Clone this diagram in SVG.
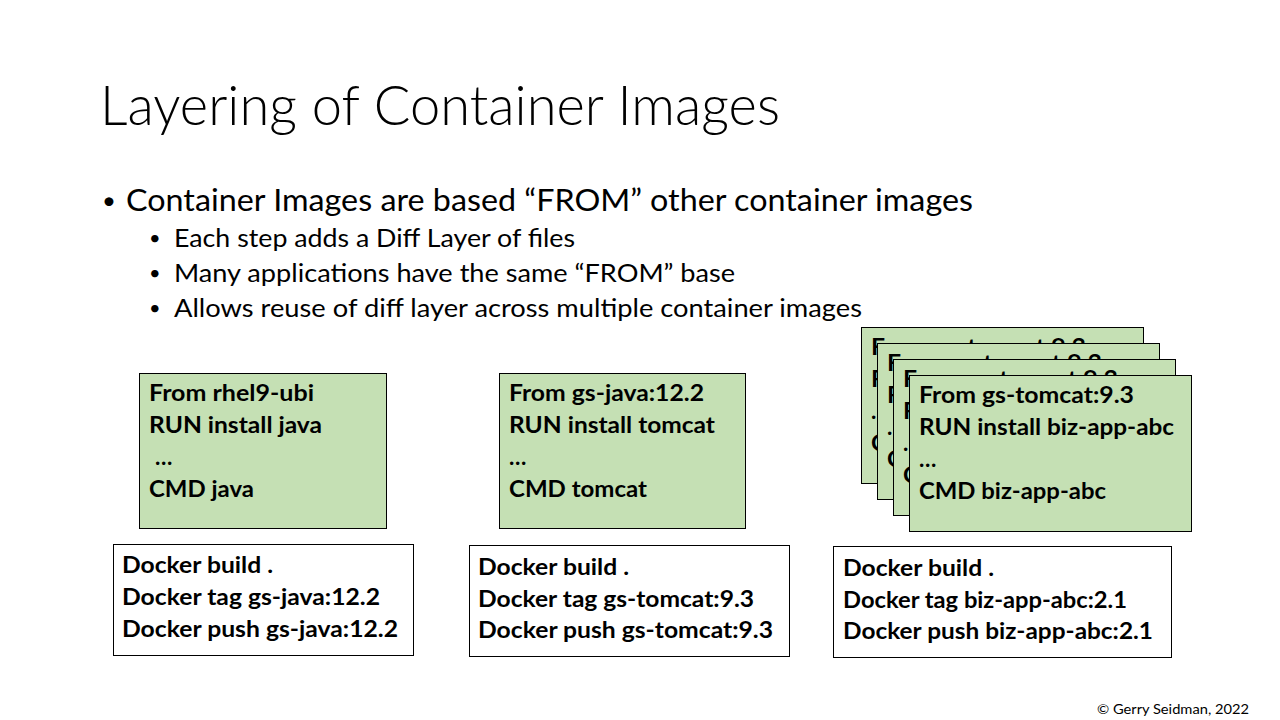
<svg xmlns="http://www.w3.org/2000/svg" width="1280" height="720" viewBox="0 0 1280 720">
<style>
text{font-family:Lato,"Open Sans","Liberation Sans",sans-serif;fill:#000}
.title{font-size:56px;font-weight:300}
.b1{font-size:30px}
.b2{font-size:25px}
.dot1{font-size:24px}
.dot2{font-size:20px}
.code{font-size:22.5px;font-weight:700}
.green{fill:#C5E0B4;stroke:#000;stroke-width:1}
.white{fill:#fff;stroke:#000;stroke-width:1}
.copy{font-size:14px}
</style>
<rect width="1280" height="720" fill="#fff"/>
<text class="title" x="100" y="125" textLength="680" lengthAdjust="spacingAndGlyphs">Layering of Container Images</text>
<g id="bullets">
<text class="dot1" x="102" y="209">•</text>
<text class="b1" x="126" y="211" textLength="847" lengthAdjust="spacingAndGlyphs">Container Images are based “FROM” other container images</text>
<text class="dot2" x="149" y="245">•</text>
<text class="b2" x="174" y="247" textLength="401" lengthAdjust="spacingAndGlyphs">Each step adds a Diff Layer of files</text>
<text class="dot2" x="149" y="280">•</text>
<text class="b2" x="174" y="282" textLength="561" lengthAdjust="spacingAndGlyphs">Many applications have the same “FROM” base</text>
<text class="dot2" x="149" y="315">•</text>
<text class="b2" x="174" y="317" textLength="688" lengthAdjust="spacingAndGlyphs">Allows reuse of diff layer across multiple container images</text>
</g>
<g id="connectors"></g>
<g id="java-dockerfile">
<rect class="green" x="139.5" y="373.5" width="247" height="155"/>
<text class="code" x="149" y="401" textLength="165" lengthAdjust="spacingAndGlyphs">From rhel9-ubi</text>
<text class="code" x="149" y="433" textLength="173" lengthAdjust="spacingAndGlyphs">RUN install java</text>
<text class="code" x="155" y="465">…</text>
<text class="code" x="149" y="497" textLength="105" lengthAdjust="spacingAndGlyphs">CMD java</text>
</g>
<g id="java-build">
<rect class="white" x="113.5" y="544.5" width="300" height="111"/>
<text class="code" x="122" y="573" textLength="151" lengthAdjust="spacingAndGlyphs">Docker build .</text>
<text class="code" x="122" y="605" textLength="258" lengthAdjust="spacingAndGlyphs">Docker tag gs-java:12.2</text>
<text class="code" x="122" y="637" textLength="276" lengthAdjust="spacingAndGlyphs">Docker push gs-java:12.2</text>
</g>
<g id="tomcat-dockerfile">
<rect class="green" x="499.5" y="373.5" width="246" height="155"/>
<text class="code" x="509" y="401" textLength="195" lengthAdjust="spacingAndGlyphs">From gs-java:12.2</text>
<text class="code" x="509" y="433" textLength="206" lengthAdjust="spacingAndGlyphs">RUN install tomcat</text>
<text class="code" x="509" y="465">…</text>
<text class="code" x="509" y="497" textLength="138" lengthAdjust="spacingAndGlyphs">CMD tomcat</text>
</g>
<g id="tomcat-build">
<rect class="white" x="469.5" y="545.5" width="320" height="111"/>
<text class="code" x="478" y="575" textLength="151" lengthAdjust="spacingAndGlyphs">Docker build .</text>
<text class="code" x="478" y="607" textLength="276" lengthAdjust="spacingAndGlyphs">Docker tag gs-tomcat:9.3</text>
<text class="code" x="478" y="638" textLength="295" lengthAdjust="spacingAndGlyphs">Docker push gs-tomcat:9.3</text>
</g>
<g id="app-dockerfile-stack">
<g id="app-card-1">
<rect class="green" x="861.5" y="327.5" width="282" height="156"/>
<text class="code" x="871" y="355" textLength="215" lengthAdjust="spacingAndGlyphs">From gs-tomcat:9.3</text>
<text class="code" x="871" y="387" textLength="255" lengthAdjust="spacingAndGlyphs">RUN install biz-app-abc</text>
<text class="code" x="871" y="419">…</text>
<text class="code" x="871" y="451" textLength="187" lengthAdjust="spacingAndGlyphs">CMD biz-app-abc</text>
</g>
<g id="app-card-2">
<rect class="green" x="877.5" y="343.5" width="282" height="156"/>
<text class="code" x="887" y="371" textLength="215" lengthAdjust="spacingAndGlyphs">From gs-tomcat:9.3</text>
<text class="code" x="887" y="403" textLength="255" lengthAdjust="spacingAndGlyphs">RUN install biz-app-abc</text>
<text class="code" x="887" y="435">…</text>
<text class="code" x="887" y="467" textLength="187" lengthAdjust="spacingAndGlyphs">CMD biz-app-abc</text>
</g>
<g id="app-card-3">
<rect class="green" x="893.5" y="359.5" width="282" height="156"/>
<text class="code" x="903" y="387" textLength="215" lengthAdjust="spacingAndGlyphs">From gs-tomcat:9.3</text>
<text class="code" x="903" y="419" textLength="255" lengthAdjust="spacingAndGlyphs">RUN install biz-app-abc</text>
<text class="code" x="903" y="451">…</text>
<text class="code" x="903" y="483" textLength="187" lengthAdjust="spacingAndGlyphs">CMD biz-app-abc</text>
</g>
<g id="app-card-4">
<rect class="green" x="909.5" y="375.5" width="282" height="156"/>
<text class="code" x="919" y="403" textLength="215" lengthAdjust="spacingAndGlyphs">From gs-tomcat:9.3</text>
<text class="code" x="919" y="435" textLength="255" lengthAdjust="spacingAndGlyphs">RUN install biz-app-abc</text>
<text class="code" x="919" y="467">…</text>
<text class="code" x="919" y="499" textLength="187" lengthAdjust="spacingAndGlyphs">CMD biz-app-abc</text>
</g>
</g>
<g id="app-build">
<rect class="white" x="833.5" y="546.5" width="338" height="111"/>
<text class="code" x="843" y="576" textLength="151" lengthAdjust="spacingAndGlyphs">Docker build .</text>
<text class="code" x="843" y="608" textLength="284" lengthAdjust="spacingAndGlyphs">Docker tag biz-app-abc:2.1</text>
<text class="code" x="843" y="639" textLength="310" lengthAdjust="spacingAndGlyphs">Docker push biz-app-abc:2.1</text>
</g>
<text class="copy" x="1097" y="714" textLength="152" lengthAdjust="spacingAndGlyphs">© Gerry Seidman, 2022</text>
</svg>
